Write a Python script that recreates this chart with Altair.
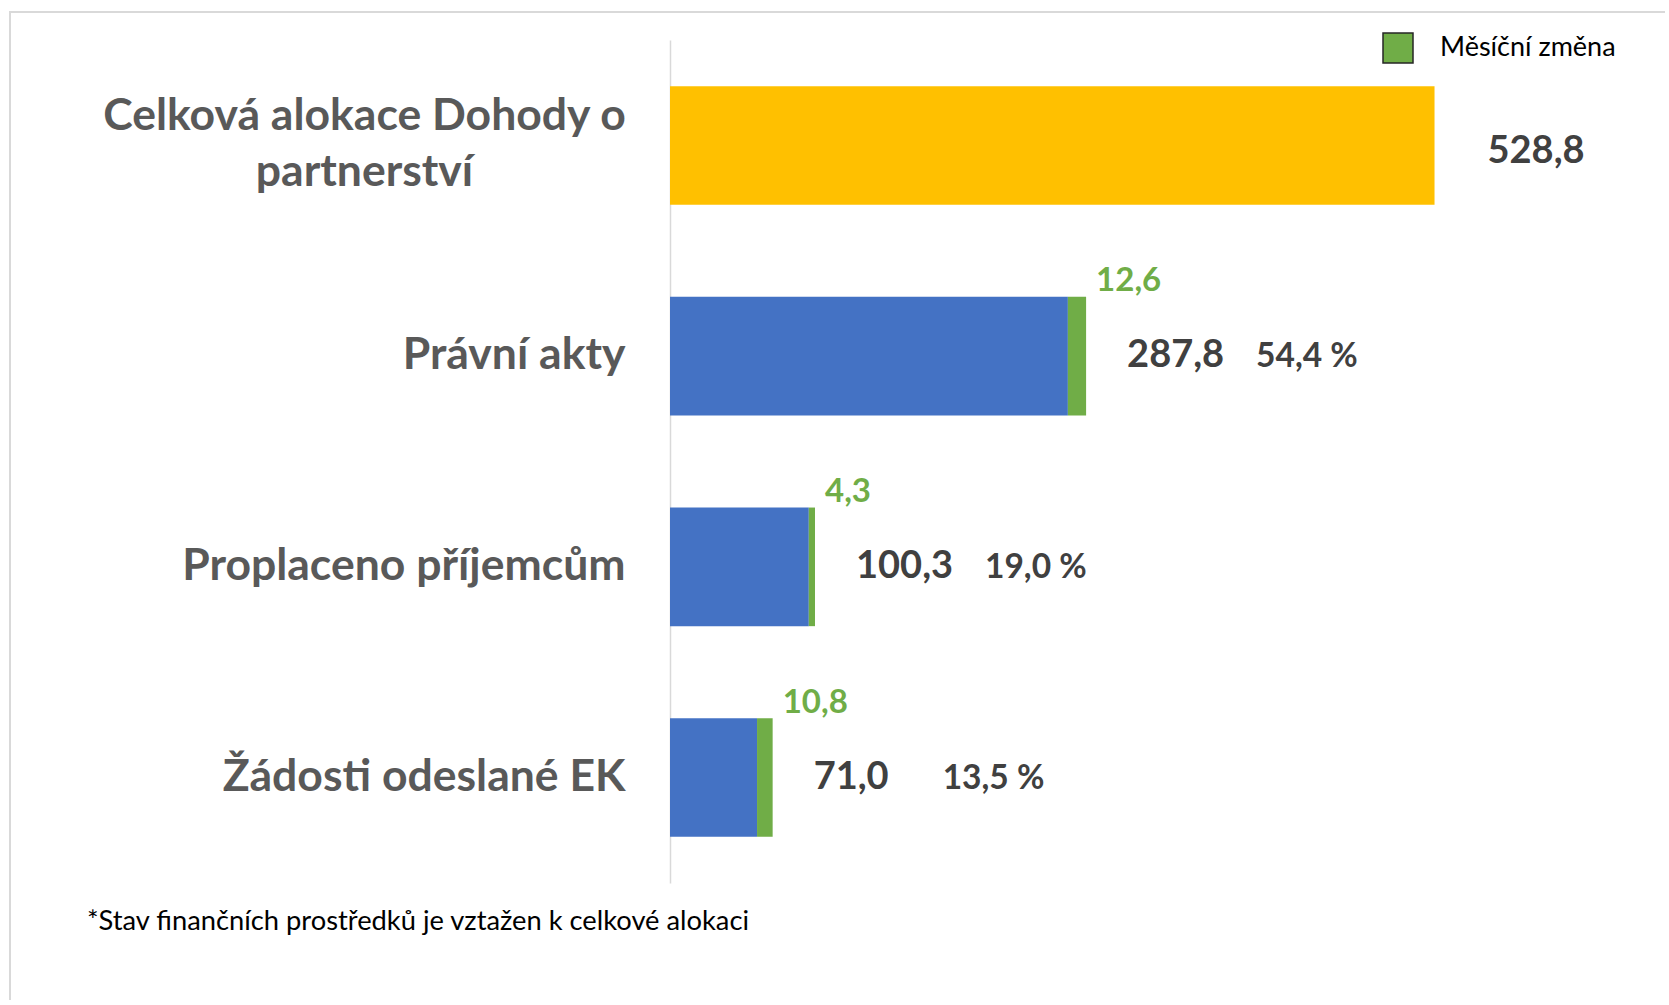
import altair as alt
import pandas as pd

categories = [
    "Celková alokace Dohody o partnerství",
    "Právní akty",
    "Proplaceno příjemcům",
    "Žádosti odeslané EK",
]
totals = [528.8, 287.8, 100.3, 71.0]
changes = [None, 12.6, 4.3, 10.8]
percents = [None, 54.4, 19.0, 13.5]
legend_label = "Měsíční změna"
footnote = "*Stav finančních prostředků je vztažen k celkové alokaci"

df = pd.DataFrame({"kategorie": categories, "celkem": totals, "zmena": changes, "podil": percents})

FIRST = categories[0]
W, H = 960, 843
x_scale = alt.Scale(domain=[0, 664], nice=False)
cond_first = f"datum.value == '{FIRST}'"
y_enc = alt.Y(
    "kategorie:N",
    sort=categories,
    scale=alt.Scale(paddingInner=0.437, paddingOuter=0.219),
    axis=alt.Axis(
        title=None,
        ticks=False,
        domainColor="#d9d9d9",
        domainWidth=1.5,
        labelFont="Lato",
        labelFontWeight="bold",
        labelFontSize=44.5,
        labelColor="#595959",
        labelLimit=0,
        labelOverlap=False,
        labelBound=False,
        labelLineHeight=56,
        labelExpr=f"{cond_first} ? ['Celková alokace Dohody o', 'partnerství'] : datum.label",
        labelAlign={"condition": {"test": cond_first, "value": "center"}, "value": "right"},
        labelPadding={"condition": {"test": cond_first, "value": 306}, "value": 45},
        labelOffset={"condition": {"test": cond_first, "value": -28}, "value": 0},
    ),
)

base = alt.Chart(df).transform_calculate(
    zaklad="datum.zmena == null ? datum.celkem : datum.celkem - datum.zmena",
    celkem_txt="replace(format(datum.celkem, '.1f'), '.', ',')",
    zmena_txt="datum.zmena == null ? '' : replace(format(datum.zmena, '.1f'), '.', ',')",
    podil_txt="datum.podil == null ? '' : replace(format(datum.podil, '.1f'), '.', ',') + ' %'",
    legenda=f"'{legend_label}'",
)

frame = alt.Chart(pd.DataFrame({"r": [0]})).mark_rect(
    fillOpacity=0, stroke="#d9d9d9", strokeWidth=2
).encode(
    x=alt.value(-660), x2=alt.value(1200), y=alt.value(-28), y2=alt.value(1200)
)

note = alt.Chart(pd.DataFrame({"t": [footnote]})).mark_text(
    align="left", baseline="alphabetic", font="Lato", fontSize=27.3, color="#000000"
).encode(x=alt.value(-583), y=alt.value(890), text="t:N")

bars = base.mark_bar().encode(
    x=alt.X("zaklad:Q", scale=x_scale, axis=None),
    y=y_enc,
    color=alt.condition("datum.zmena == null", alt.value("#FFC000"), alt.value("#4472C4")),
)

green = base.transform_filter("datum.zmena != null").mark_bar().encode(
    x=alt.X("zaklad:Q", scale=x_scale, axis=None),
    x2="celkem:Q",
    y=y_enc,
    color=alt.Color(
        "legenda:N",
        scale=alt.Scale(domain=[legend_label], range=["#70AD47"]),
        legend=alt.Legend(
            title=None,
            orient="none",
            legendX=712,
            legendY=-8,
            symbolType="square",
            symbolSize=900,
            symbolStrokeColor="#262626",
            symbolStrokeWidth=1.5,
            labelFont="Lato",
            labelFontSize=27,
            labelColor="#000000",
            labelOffset=26,
            labelLimit=0,
            padding=0,
        ),
    ),
)

val_first = base.transform_filter("datum.zmena == null").mark_text(
    align="left", baseline="middle", dx=53, dy=7, font="Lato", fontWeight="bold", fontSize=38, color="#404040"
).encode(x=alt.X("celkem:Q", scale=x_scale, axis=None), y=y_enc, text="celkem_txt:N")

val_rest = base.transform_filter("datum.zmena != null").mark_text(
    align="left", baseline="middle", dx=41, dy=0, font="Lato", fontWeight="bold", fontSize=38, color="#404040"
).encode(x=alt.X("celkem:Q", scale=x_scale, axis=None), y=y_enc, text="celkem_txt:N")

pct = base.transform_filter("datum.zmena != null").mark_text(
    align="left", baseline="middle", dx=170, dy=1, font="Lato", fontWeight="bold", fontSize=33.5, color="#404040"
).encode(x=alt.X("celkem:Q", scale=x_scale, axis=None), y=y_enc, text="podil_txt:N")

chg = base.transform_filter("datum.zmena != null").mark_text(
    align="left", baseline="alphabetic", dx=10, dy=-65, font="Lato", fontWeight="bold", fontSize=33, color="#70AD47"
).encode(x=alt.X("celkem:Q", scale=x_scale, axis=None), y=y_enc, text="zmena_txt:N")

chart = alt.layer(frame, note, bars, green, val_first, val_rest, pct, chg).properties(
    width=W,
    height=H,
    background="white",
    autosize=alt.AutoSizeParams(type="none"),
    padding={"left": 670, "top": 40, "right": 35, "bottom": 117},
).configure_view(strokeWidth=0, stroke=None)

chart.save("out.html", embed_options={"renderer": "svg", "actions": False})
